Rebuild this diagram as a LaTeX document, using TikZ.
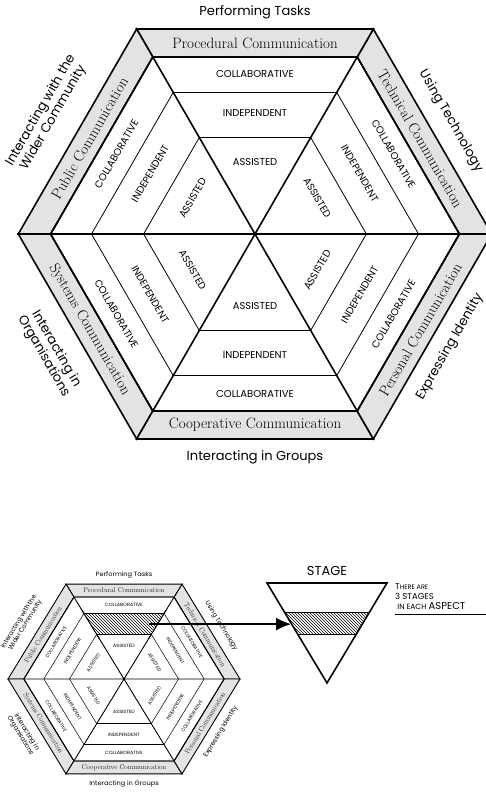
\documentclass[tikz,border=0pt]{standalone}
\usepackage{fontspec}
\newfontfamily\gothic{Poppins}
\usepackage{tikz}
\usetikzlibrary{arrows.meta,patterns,positioning,calc}
\tikzstyle{bandbox}=[fill=gray!22, draw=black, line width=1.6pt, line join=miter]
\tikzstyle{spokeline}=[line width=1.6pt, line join=miter]
\tikzstyle{stageline}=[line width=0.8pt]
\tikzstyle{commtext}=[inner sep=0pt, font=\fontsize{15}{15}\selectfont]
\tikzstyle{stagetext}=[inner sep=0pt, font=\gothic\fontsize{10}{10}\selectfont]
\tikzstyle{strandtext}=[inner sep=0pt, align=center, font=\gothic\fontsize{13}{14.5}\selectfont]
\tikzstyle{notetext}=[inner sep=0pt, align=left, font=\gothic\fontsize{8.5}{10}\selectfont]

% one aspect hexagon, #1 = prefix of the node names, #2 = extra gap of the strand labels
\newcommand{\aspecthex}[2]{%
  \foreach \d in {0,60,...,300}
    \filldraw[bandbox] (\d:236.7) -- (\d+60:236.7) -- (\d+60:204.4) -- (\d:204.4) -- cycle;
  \foreach \d in {0,60,...,300} {
    \draw[stageline] (\d:163.5) -- (\d+60:163.5);
    \draw[stageline] (\d:111.4) -- (\d+60:111.4);
  }
  \draw[spokeline] (0:204.4) -- (180:204.4) (60:204.4) -- (240:204.4) (120:204.4) -- (300:204.4);
  \draw[spokeline] (0:204.4) -- (60:204.4) -- (120:204.4) -- (180:204.4) -- (240:204.4) -- (300:204.4) -- cycle;
  \foreach \d/\r [count=\i] in {90/0,30/-60,-30/60,-90/0,210/-60,150/60} {
    \node[stagetext, rotate=\r] (#1-a\i) at (\d:72) {ASSISTED};
    \node[stagetext, rotate=\r] (#1-i\i) at (\d:121) {INDEPENDENT};
    \node[stagetext, rotate=\r] (#1-c\i) at (\d:160) {COLLABORATIVE};
  }
  \foreach \d/\r/\comm [count=\i] in {90/0/Procedural Communication,30/-60/Technical Communication,-30/60/Personal Communication,-90/0/Cooperative Communication,210/-60/Systems Communication,150/60/Public Communication}
    \node[commtext, rotate=\r] (#1-comm\i) at (\d:191) {\comm};
  \node[strandtext] (#1-tasks) at (90:222+#2) {Performing Tasks};
  \node[strandtext, rotate=-60] (#1-tech) at (30:226+#2) {Using Technology};
  \node[strandtext, rotate=60] (#1-ident) at (-30:225+#2) {Expressing Identity};
  \node[strandtext] (#1-groups) at (-90:223+#2) {Interacting in Groups};
  \node[strandtext, rotate=-60] (#1-org) at (210:237) {Interacting in\\Organisations};
  \node[strandtext, rotate=60] (#1-wider) at (150:240) {Interacting with the\\Wider Community};
}

\begin{document}
\begin{tikzpicture}[x=1pt,y=1pt]
\clip (0,0) rectangle (486,-795);
% big hexagon
\begin{scope}[shift={(255,-234)}]
  \aspecthex{big}{0}
\end{scope}
% small copy, one stage marked
\begin{scope}[shift={(124,-679)}, xscale=0.49, yscale=0.463, transform shape,
  bandbox/.append style={line width=0.9pt}, spokeline/.append style={line width=0.9pt},
  stageline/.append style={line width=0.5pt},
  strandtext/.append style={font=\gothic\fontsize{13.5}{15}\selectfont}]
  \aspecthex{small}{3}
  \fill[white] (60:111.4) -- (60:163.5) -- (120:163.5) -- (120:111.4) -- cycle;
  \fill[pattern=north west lines] (60:111.4) -- (60:163.5) -- (120:163.5) -- (120:111.4) -- cycle;
  \draw[stageline] (60:163.5) -- (120:163.5) (60:111.4) -- (120:111.4);
  \draw[spokeline] (60:100) -- (60:175) (120:100) -- (120:175);
  \coordinate (small-mark) at (50,118.6);
\end{scope}
% the stage triangle
\coordinate (tri-l) at (267,-583);
\coordinate (tri-r) at (387,-583);
\coordinate (tri-b) at (327,-683);
\coordinate (tri-t) at ($(tri-l)!0.5!(tri-r)$);
\coordinate (tip) at ($(tri-l)!0.4!(tri-b)$);
\fill[pattern=north west lines] ($(tri-l)!0.29!(tri-b)$) -- ($(tri-r)!0.29!(tri-b)$) -- ($(tri-r)!0.51!(tri-b)$) -- ($(tri-l)!0.51!(tri-b)$) -- cycle;
\draw[stageline] ($(tri-l)!0.29!(tri-b)$) -- ($(tri-r)!0.29!(tri-b)$)
  ($(tri-l)!0.51!(tri-b)$) -- ($(tri-r)!0.51!(tri-b)$);
\draw[spokeline] (tri-l) -- (tri-r) -- (tri-b) -- cycle;
\node[strandtext] (stage) [above=7pt of tri-t] {STAGE};
\node[notetext] (note) [right=8pt of tri-r, anchor=north west]
  {T{\fontsize{6.5}{6.5}\selectfont HERE ARE}\\3 STAGES\\\ {\fontsize{7.5}{7.5}\selectfont IN EACH} {\fontsize{10}{10}\selectfont ASPECT}};
\draw[line width=0.5pt] ([yshift=-5pt]note.south west) -- ([yshift=-5pt, xshift=110pt]note.south west);
% arrow from the marked stage
\draw[line width=1.3pt, -{Latex[length=15pt,width=13pt]}] (small-mark) -- (tip |- small-mark);
\end{tikzpicture}
\end{document}
